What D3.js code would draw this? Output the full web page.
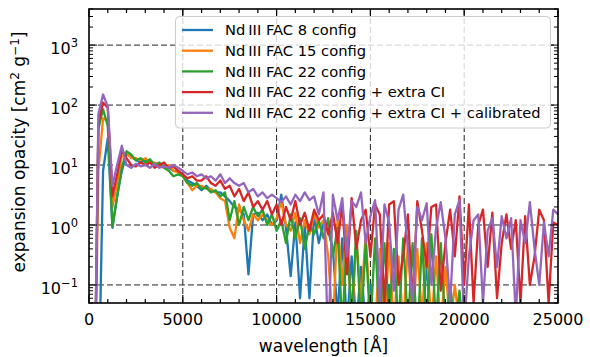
<!DOCTYPE html>
<html>
<head>
<meta charset="utf-8">
<script src="https://cdn.jsdelivr.net/npm/d3@7"></script>
<style>
  body { margin: 0; background: #fff; }
  svg { font-family: "DejaVu Sans", sans-serif; }
</style>
</head>
<body>
<svg id="chart" width="590" height="357"></svg>
<script>
// wavelength grid [Angstrom]
const wavelength = [
  0, 250, 500, 750, 1000, 1250, 1500, 1750, 2000, 2250, 2500, 2750, 3000, 3250, 3500, 3750, 4000, 4250, 4500, 4750,
  5000, 5250, 5500, 5750, 6000, 6250, 6500, 6750, 7000, 7250, 7500, 7750, 8000, 8250, 8500, 8750, 9000, 9250, 9500, 9750,
  10000, 10250, 10500, 10750, 11000, 11250, 11500, 11750, 12000, 12250, 12500, 12750, 13000, 13250, 13500, 13750, 14000, 14250, 14500, 14750,
  15000, 15250, 15500, 15750, 16000, 16250, 16500, 16750, 17000, 17250, 17500, 17750, 18000, 18250, 18500, 18750, 19000, 19250, 19500, 19750,
  20000, 20250, 20500, 20750, 21000, 21250, 21500, 21750, 22000, 22250, 22500, 22750, 23000, 23250, 23500, 23750, 24000, 24250, 24500, 24750,
  25000
];

// opacity values [cm^2 g^-1]
const fac8 = [
  1e-4, 1e-4, 1e-3, 8, 28, 0.9, 3, 8, 15, 14, 12, 11, 12, 11, 10, 10, 9.5, 9, 8, 8,
  7, 5.5, 5, 4.5, 3.8, 4.5, 3.8, 3.5, 3.5, 3, 2.5, 2, 1.8, 1.5, 0.15, 1.5, 1.6, 1.2, 1.5, 1.0,
  1.2, 3.2, 0.9, 0.14, 1.1, 0.06, 1.0, 0.06, 1.5, 0.5, 1.1, 0.8, 0.4, 0.03, 0.6, 0.02, 0.3, 0.02, 0.2, 0.02,
  0.1, 0.01, 0.03, 0.01, 0.1, 0.01, 0.02, 0.01, 0.01, 0.02, 0.01, 0.01, 0.3, 0.01, 0.01, 0.02, 0.01, 0.01, 0.01, 0.01,
  0.01, 0.01, 0.01, 0.02, 0.01, 0.01, 0.01, 0.05, 0.01, 0.01, 0.01, 0.01, 0.01, 0.01, 0.01, 0.04, 0.01, 0.01, 0.01, 0.01,
  0.01
];
const fac15 = [
  1e-4, 1e-4, 8, 60, 55, 2, 5, 14, 16, 13, 13, 12, 13, 11, 11, 10, 9, 10, 8, 7.5,
  6.5, 5, 3.8, 4.5, 4.5, 4, 4, 3.5, 2.8, 2.5, 0.9, 0.6, 2.2, 1.2, 0.8, 1.5, 1.2, 1.5, 1.2, 1,
  1.3, 2.5, 1, 0.8, 1.6, 0.5, 1.2, 0.7, 1.5, 0.9, 1.2, 0.3, 0.02, 1.2, 0.1, 1.0, 0.02, 0.6, 0.05, 0.7,
  0.03, 0.02, 0.4, 0.02, 0.5, 0.02, 0.3, 0.02, 0.5, 0.02, 0.4, 0.03, 0.5, 0.02, 0.3, 0.02, 0.2, 0.02, 0.1, 0.02,
  0.02, 0.01, 0.03, 0.01, 0.01, 0.02, 0.01, 0.01, 0.01, 0.02, 0.01, 0.01, 0.03, 0.01, 0.01, 0.01, 0.01, 0.02, 0.01, 0.01,
  0.01
];
const fac22 = [
  1e-4, 1e-4, 40, 85, 45, 0.95, 3, 9, 17, 15, 12, 13, 11, 12.5, 10, 11, 9, 8, 6.5, 7,
  6.5, 5, 4.5, 5, 4, 4.2, 3.5, 3.8, 3, 3.5, 1.2, 2.5, 1, 2, 1.2, 2, 1.4, 1.8, 1, 1.5,
  0.8, 1.2, 0.5, 1.5, 0.6, 1.3, 0.4, 1.0, 0.7, 1.2, 0.6, 1.3, 0.3, 0.9, 0.02, 0.6, 0.03, 0.8, 0.02, 0.5,
  0.02, 0.6, 0.02, 0.5, 0.03, 0.4, 0.02, 0.6, 0.02, 0.5, 0.01, 0.6, 0.02, 0.7, 0.02, 0.5, 0.02, 0.1, 0.02, 0.08,
  0.01, 0.02, 0.01, 0.03, 0.01, 0.02, 0.01, 0.03, 0.01, 0.02, 0.01, 0.05, 0.01, 0.01, 0.02, 0.01, 0.01, 0.03, 0.01, 0.01,
  0.01
];
const fac22ci = [
  1e-4, 1e-4, 50, 110, 90, 3, 7, 18, 13, 10, 9.5, 11, 10, 11, 9, 10, 11, 9, 9.5, 8,
  7, 6, 6.5, 5.5, 5.5, 6.5, 5, 4.5, 5.5, 4, 4.5, 3, 4, 2.5, 3.5, 2, 2.5, 1.8, 2.5, 1.5,
  2.2, 1.0, 2, 1.2, 2.5, 1, 1.6, 0.8, 1.8, 1.2, 1.5, 0.7, 1.6, 0.5, 2.2, 0.15, 2.8, 0.4, 1.2, 1.8,
  0.3, 2.2, 1.5, 0.05, 2.2, 2.5, 0.1, 0.3, 1.5, 0.05, 2.5, 0.8, 0.2, 2.0, 2.2, 0.08, 0.5, 1.8, 0.3, 3.0,
  0.1, 2.2, 0.05, 1.0, 1.8, 0.2, 1.6, 0.06, 0.5, 1.5, 0.4, 1.2, 0.05, 1.4, 0.1, 0.3, 1.8, 1.2, 0.05, 1.1,
  1.0
];
const fac22cal = [
  1e-4, 1e-4, 70, 150, 95, 4.5, 10, 21, 10, 9, 10.5, 9.5, 10, 9, 10.5, 9, 9.5, 9, 10, 9,
  8, 7, 7.5, 6.5, 7, 6, 6.5, 5.5, 7, 5, 6, 5, 4.5, 5, 3.5, 4, 3, 3.5, 2.8, 3.2,
  2.8, 2.4, 3, 2.2, 3.2, 2.5, 3.5, 2.6, 3, 1.5, 3.5, 0.01, 3.2, 1.2, 2.8, 0.3, 2.5, 2.0, 3.5, 0.5,
  1.4, 2.6, 0.05, 2.2, 1.1, 0.08, 1.8, 3.2, 0.4, 0.05, 2.0, 1.2, 2.3, 0.1, 0.9, 2.4, 0.6, 0.05, 1.5, 2.6,
  0.02, 0.3, 1.2, 1.5, 0.05, 0.8, 1.3, 0.2, 1.4, 0.6, 1.3, 0.03, 1.2, 0.5, 2.4, 0.4, 0.1, 1.1, 0.3, 1.8,
  1.5
];

const seriesNames = [
  "Nd\u2009III FAC 8 config",
  "Nd\u2009III FAC 15 config",
  "Nd\u2009III FAC 22 config",
  "Nd\u2009III FAC 22 config + extra CI",
  "Nd\u2009III FAC 22 config + extra CI + calibrated"
];
const seriesValues = [fac8, fac15, fac22, fac22ci, fac22cal];
const colors = ["#1f77b4", "#ff7f0e", "#2ca02c", "#d62728", "#9467bd"];

const xTicks = [0, 5000, 10000, 15000, 20000, 25000];
const yExponents = [-1, 0, 1, 2, 3];

const svg = d3.select("#chart");
const margin = { left: 89, right: 32, top: 9, bottom: 54 };
const W = 590, H = 357;
const x0 = margin.left, x1 = W - margin.right, y0 = margin.top, y1 = H - margin.bottom;

const x = d3.scaleLinear().domain([0, 25000]).range([x0, x1]);
const y = d3.scaleLog().domain([0.05, 4000]).range([y1, y0]);

svg.append("defs").append("clipPath").attr("id", "plotclip")
  .append("rect").attr("x", x0).attr("y", y0).attr("width", x1 - x0).attr("height", y1 - y0);

// grid
const grid = svg.append("g").attr("stroke", "#222").attr("stroke-width", 1).attr("stroke-dasharray", "6,3");
grid.selectAll(".gx").data(xTicks.slice(1, -1)).enter().append("line")
  .attr("x1", d => x(d)).attr("x2", d => x(d)).attr("y1", y0).attr("y2", y1);
grid.selectAll(".gy").data(yExponents).enter().append("line")
  .attr("x1", x0).attr("x2", x1).attr("y1", d => y(Math.pow(10, d))).attr("y2", d => y(Math.pow(10, d)));

// lines
const line = d3.line()
  .x((d, i) => x(wavelength[i]))
  .y(d => y(d));

svg.append("g").attr("clip-path", "url(#plotclip)")
  .selectAll("path").data(seriesValues).enter().append("path")
  .attr("fill", "none")
  .attr("stroke", (d, i) => colors[i])
  .attr("stroke-width", 2.3)
  .attr("stroke-linejoin", "round")
  .attr("d", line);

// ticks (inside, all four sides)
const xMinor = d3.range(1000, 25000, 1000).filter(v => v % 5000 !== 0);
const yMinor = [];
for (let e = -2; e <= 3; e++) {
  for (let m = 2; m <= 9; m++) {
    const v = m * Math.pow(10, e);
    if (v >= 0.05 && v <= 4000) yMinor.push(v);
  }
}
const ticks = svg.append("g").attr("stroke", "#000");
function xt(data, len) {
  ticks.selectAll(null).data(data).enter().append("line")
    .attr("x1", d => x(d)).attr("x2", d => x(d)).attr("y1", y1).attr("y2", y1 - len).attr("stroke-width", 1.2);
  ticks.selectAll(null).data(data).enter().append("line")
    .attr("x1", d => x(d)).attr("x2", d => x(d)).attr("y1", y0).attr("y2", y0 + len).attr("stroke-width", 1.2);
}
function yt(data, len) {
  ticks.selectAll(null).data(data).enter().append("line")
    .attr("y1", d => y(d)).attr("y2", d => y(d)).attr("x1", x0).attr("x2", x0 + len).attr("stroke-width", 1);
  ticks.selectAll(null).data(data).enter().append("line")
    .attr("y1", d => y(d)).attr("y2", d => y(d)).attr("x1", x1).attr("x2", x1 - len).attr("stroke-width", 1);
}
xt(xTicks, 8);
xt(xMinor, 4);
yt(yExponents.map(e => Math.pow(10, e)), 8);
yt(yMinor, 4);

// frame
svg.append("rect").attr("x", x0).attr("y", y0).attr("width", x1 - x0).attr("height", y1 - y0)
  .attr("fill", "none").attr("stroke", "#000").attr("stroke-width", 1.6);

// tick labels
svg.append("g").selectAll("text").data(xTicks).enter().append("text")
  .attr("x", d => x(d)).attr("y", y1 + 22)
  .attr("text-anchor", "middle").attr("font-size", 16).attr("fill", "#000")
  .text(d => d);

const yl = svg.append("g").selectAll("text").data(yExponents).enter().append("text")
  .attr("x", x0 - 11).attr("y", d => y(Math.pow(10, d)) + 9)
  .attr("text-anchor", "end").attr("font-size", 16).attr("fill", "#000");
yl.append("tspan").text("10");
yl.append("tspan").attr("font-size", 11.5).attr("dy", -7)
  .text(d => d < 0 ? "\u2212" + Math.abs(d) : d);

// axis labels
svg.append("text").attr("x", (x0 + x1) / 2).attr("y", 352)
  .attr("text-anchor", "middle").attr("font-size", 17).text("wavelength [\u00c5]");

const ylab = svg.append("text")
  .attr("transform", `translate(25,${(y0 + y1) / 2 - 4}) rotate(-90)`)
  .attr("text-anchor", "middle").attr("font-size", 17);
ylab.append("tspan").text("expansion opacity [cm");
ylab.append("tspan").attr("font-size", 12).attr("dy", -6.5).text("2");
ylab.append("tspan").attr("dy", 6.5).text(" g");
ylab.append("tspan").attr("font-size", 12).attr("dy", -6.5).text("\u22121");
ylab.append("tspan").attr("dy", 6.5).text("]");

// legend
const lg = svg.append("g");
lg.append("rect").attr("x", 175.5).attr("y", 16.5).attr("width", 375).attr("height", 111.5)
  .attr("rx", 4).attr("fill", "#fff").attr("fill-opacity", 0.8)
  .attr("stroke", "#ccc").attr("stroke-width", 1);
const rows = lg.selectAll(".row").data(seriesNames).enter().append("g")
  .attr("transform", (d, i) => `translate(0,${30 + i * 20.7})`);
rows.append("line").attr("x1", 182).attr("x2", 213)
  .attr("stroke", (d, i) => colors[i]).attr("stroke-width", 2.3);
rows.append("text").attr("x", 225).attr("y", 5.3)
  .attr("font-size", 14.7).attr("fill", "#000").text(d => d);
</script>
</body>
</html>
